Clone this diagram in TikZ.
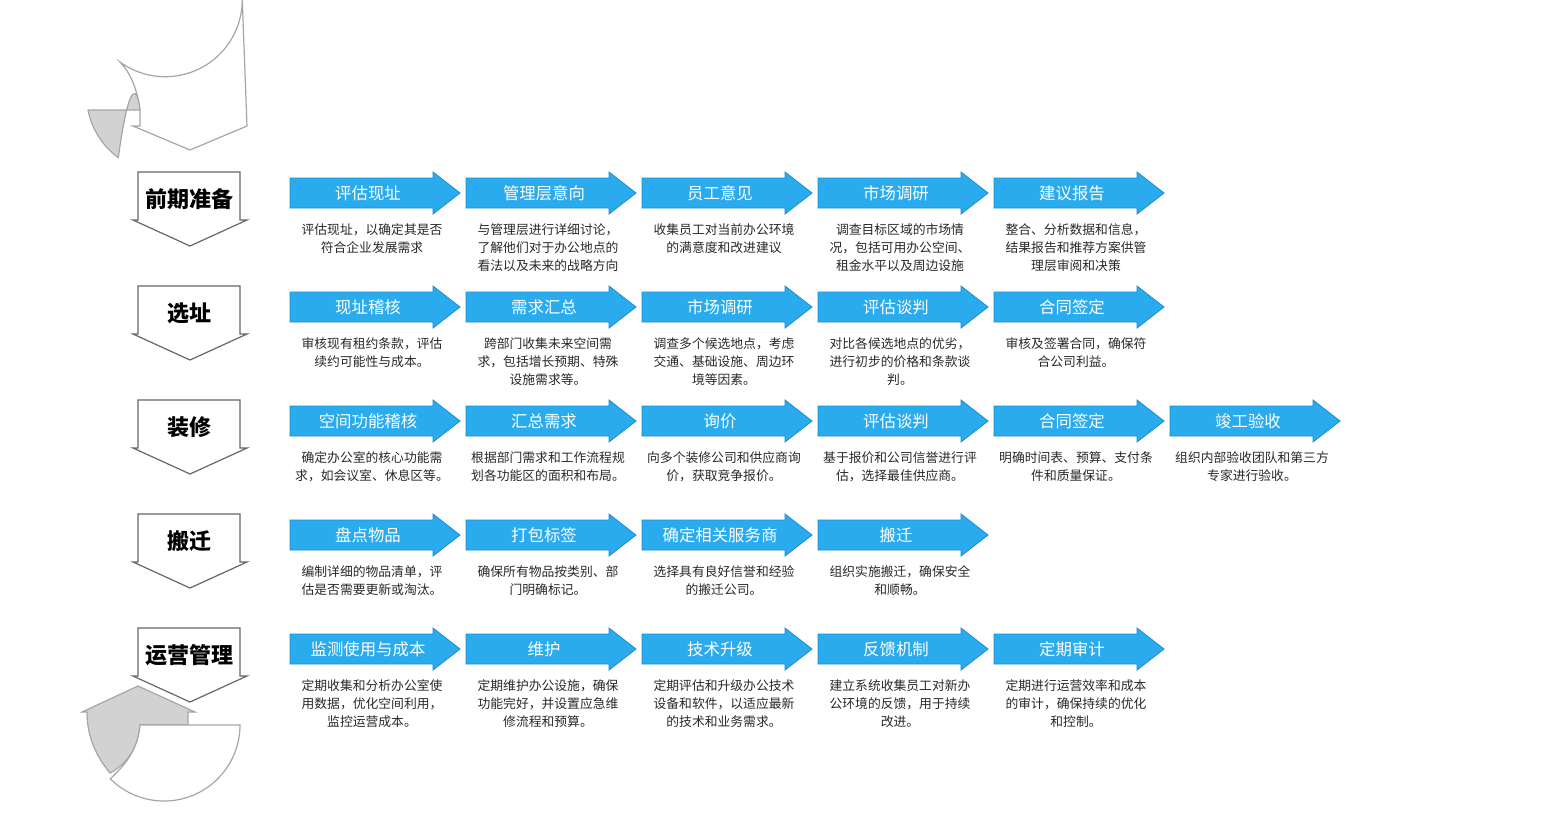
\documentclass[tikz,border=0pt]{standalone}
\usepackage{fontspec}
\setmainfont{Noto Sans CJK SC}
\definecolor{blu}{RGB}{41,171,238}
\definecolor{blue2}{RGB}{30,140,205}
\definecolor{gr}{RGB}{210,210,210}
\definecolor{txt}{RGB}{40,40,40}
\newcommand\stepar[5]{%
  \fill[blu,draw=blue2,line width=0.4pt] (#1,#2+6) -- (#1+143,#2+6) -- (#1+143,#2) -- (#1+170,#2+21) -- (#1+143,#2+42) -- (#1+143,#2+36) -- (#1,#2+36) -- cycle;
  \node[ttl] (#5t) at (#1+78,#2+21) {#3};
  \node[dsc,anchor=north] (#5d) at (#1+82,#2+45) {#4};}
\newcommand\lab[3]{%
  \draw[gray!80!black,line width=0.6pt,fill=white] (138,#1) -- (240,#1) -- (240,#1+48) -- (247,#1+48) -- (190,#1+74) -- (133,#1+48) -- (138,#1+48) -- cycle;
  \node[lb] (#3) at (189,#1+27) {#2};}
\begin{document}
\begin{tikzpicture}[x=0.5pt,y=-0.5pt,
  ttl/.style={text=white,font=\fontsize{8.2}{9}\selectfont},
  dsc/.style={text=txt,align=center,font=\fontsize{6.4}{9}\selectfont},
  lb/.style={font=\bfseries\fontsize{11}{12}\selectfont}]
\useasboundingbox (0,0) rectangle (1566,816);
% top decoration
\draw[gray!70,line width=0.6pt,fill=white] (140,112) .. controls (138,90) and (130,72) .. (120,62) arc[start angle=126,end angle=0,radius=77] -- (247,126) -- (190,150) -- (133,126) -- (140,126) -- cycle;
\draw[gray!70,line width=0.6pt,fill=gr] (88,110) arc[start angle=169,end angle=126,radius=77] .. controls (130,72) and (138,90) .. (140,110) -- cycle;
% bottom decoration
\draw[gray!70,line width=0.6pt,fill=gr] (87,712) -- (82,712) -- (138,686) -- (195,712) -- (188,712) -- (188,725) -- (140,725) .. controls (138,750) and (125,765) .. (110,773) .. controls (95,755) and (87,735) .. (87,712) -- cycle;
\draw[gray!70,line width=0.6pt,fill=white] (140,725) -- (240,725) arc[start angle=0,end angle=135,radius=76] .. controls (125,765) and (138,750) .. (140,725) -- cycle;
% labels
\lab{172}{前期准备}{L1}
\lab{286}{选址}{L2}
\lab{400}{装修}{L3}
\lab{514}{搬迁}{L4}
\lab{628}{运营管理}{L5}
% row 1
\stepar{290}{172}{评估现址}{评估现址，以确定其是否\\符合企业发展需求}{a1}
\stepar{466}{172}{管理层意向}{与管理层进行详细讨论，\\了解他们对于办公地点的\\看法以及未来的战略方向}{a2}
\stepar{642}{172}{员工意见}{收集员工对当前办公环境\\的满意度和改进建议}{a3}
\stepar{818}{172}{市场调研}{调查目标区域的市场情\\况，包括可用办公空间、\\租金水平以及周边设施}{a4}
\stepar{994}{172}{建议报告}{整合、分析数据和信息，\\结果报告和推荐方案供管\\理层审阅和决策}{a5}
% row 2
\stepar{290}{286}{现址稽核}{审核现有租约条款，评估\\续约可能性与成本。}{b1}
\stepar{466}{286}{需求汇总}{跨部门收集未来空间需\\求，包括增长预期、特殊\\设施需求等。}{b2}
\stepar{642}{286}{市场调研}{调查多个候选地点，考虑\\交通、基础设施、周边环\\境等因素。}{b3}
\stepar{818}{286}{评估谈判}{对比各候选地点的优劣，\\进行初步的价格和条款谈\\判。}{b4}
\stepar{994}{286}{合同签定}{审核及签署合同，确保符\\合公司利益。}{b5}
% row 3
\stepar{290}{400}{空间功能稽核}{确定办公室的核心功能需\\求，如会议室、休息区等。}{c1}
\stepar{466}{400}{汇总需求}{根据部门需求和工作流程规\\划各功能区的面积和布局。}{c2}
\stepar{642}{400}{询价}{向多个装修公司和供应商询\\价，获取竞争报价。}{c3}
\stepar{818}{400}{评估谈判}{基于报价和公司信誉进行评\\估，选择最佳供应商。}{c4}
\stepar{994}{400}{合同签定}{明确时间表、预算、支付条\\件和质量保证。}{c5}
\stepar{1170}{400}{竣工验收}{组织内部验收团队和第三方\\专家进行验收。}{c6}
% row 4
\stepar{290}{514}{盘点物品}{编制详细的物品清单，评\\估是否需要更新或淘汰。}{d1}
\stepar{466}{514}{打包标签}{确保所有物品按类别、部\\门明确标记。}{d2}
\stepar{642}{514}{确定相关服务商}{选择具有良好信誉和经验\\的搬迁公司。}{d3}
\stepar{818}{514}{搬迁}{组织实施搬迁，确保安全\\和顺畅。}{d4}
% row 5
\stepar{290}{628}{监测使用与成本}{定期收集和分析办公室使\\用数据，优化空间利用，\\监控运营成本。}{e1}
\stepar{466}{628}{维护}{定期维护办公设施，确保\\功能完好，并设置应急维\\修流程和预算。}{e2}
\stepar{642}{628}{技术升级}{定期评估和升级办公技术\\设备和软件，以适应最新\\的技术和业务需求。}{e3}
\stepar{818}{628}{反馈机制}{建立系统收集员工对新办\\公环境的反馈，用于持续\\改进。}{e4}
\stepar{994}{628}{定期审计}{定期进行运营效率和成本\\的审计，确保持续的优化\\和控制。}{e5}
\end{tikzpicture}
\end{document}
